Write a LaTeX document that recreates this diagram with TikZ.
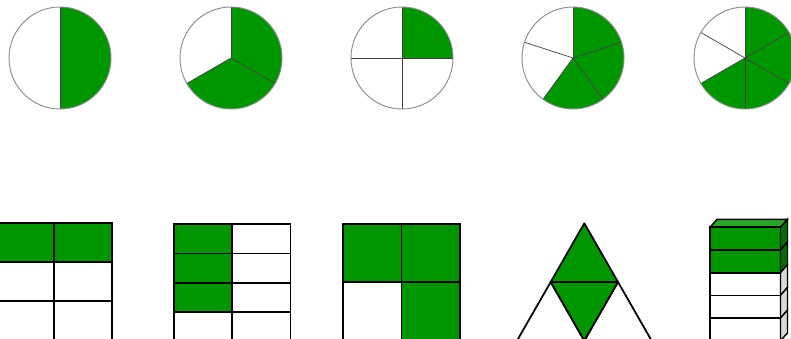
\documentclass[tikz,border=0pt]{standalone}
\usepackage{tikz}

\definecolor{fracgreen}{RGB}{0,150,0}
\tikzset{
  piebound/.style={draw=gray!90, line width=0.8pt},
  pieline/.style={draw=black!75, line width=0.6pt},
  cell/.style={draw=black, line width=1.5pt},
  fullcell/.style={cell, fill=fracgreen},
}

\begin{document}
\begin{tikzpicture}[x=0.03cm, y=0.03cm]
\useasboundingbox (0,0) rectangle (791,339);

% pies: centre x / parts / green parts
\foreach \cx/\n/\g [count=\i] in {60/2/1, 231/3/2, 402/4/1, 573/5/3, 745/6/4} {
  \coordinate (pie\i) at (\cx,281);
  \foreach \k in {1,...,\g} {
    \pgfmathsetmacro{\sa}{90-(\k-1)*360/\n}
    \pgfmathsetmacro{\ea}{90-\k*360/\n}
    \fill[fracgreen] (pie\i) -- ++(\sa:51) arc (\sa:\ea:51) -- cycle;
  }
  \foreach \k in {1,...,\n} {
    \draw[pieline] (pie\i) -- ++({90-(\k-1)*360/\n}:51);
  }
  \draw[piebound] (pie\i) circle (51);
}

% two by three grid
\foreach \x in {-4,54} {
  \draw[fullcell] (\x,77) rectangle ++(58,39);
  \draw[cell] (\x,38) rectangle ++(58,39);
  \draw[cell] (\x,-1) rectangle ++(58,39);
}

% two by four grid
\foreach \y [count=\r] in {85.5,56.3,27.1,-2} {
  \ifnum\r<4
    \draw[fullcell] (174,\y) rectangle ++(58.2,29.2);
  \else
    \draw[cell] (174,\y) rectangle ++(58.2,29.2);
  \fi
  \draw[cell] (232.2,\y) rectangle ++(58.2,29.2);
}

% two by two grid
\draw[fullcell] (343,57) rectangle (401.5,115);
\draw[fullcell] (401.5,57) rectangle (460,115);
\draw[cell] (343,-1) rectangle (401.5,57);
\draw[fullcell] (401.5,-1) rectangle (460,57);

% triangle
\coordinate (apex) at (584.3,115.7);
\coordinate (midl) at (550.7,57);
\coordinate (midr) at (618,57);
\coordinate (basel) at (517,-1.7);
\coordinate (baser) at (651.6,-1.7);
\coordinate (basem) at (584.3,-1.7);
\draw[cell, line join=round] (midl) -- (basel) -- (basem) -- cycle;
\draw[cell, line join=round] (midr) -- (baser) -- (basem) -- cycle;
\draw[fullcell, line join=round] (apex) -- (midl) -- (midr) -- cycle;
\draw[fullcell, line join=round] (midl) -- (midr) -- (basem) -- cycle;

% stacked box
\draw[cell, line width=1.2pt, fill=fracgreen!85!white] (710,111.7) -- (717,119.7) -- (787.5,119.7) -- (780.5,111.7) -- cycle;
\foreach \y [count=\r] in {89,66.3,43.6,20.9,-1.8} {
  \ifnum\r<3
    \draw[fullcell] (710,\y) rectangle ++(70.5,22.7);
    \draw[cell, line width=1.2pt, fill=fracgreen!75!black] (780.5,\y) -- ++(7,8) -- ++(0,22.7) -- ++(-7,-8) -- cycle;
  \else
    \draw[cell] (710,\y) rectangle ++(70.5,22.7);
    \draw[cell, line width=1.2pt, fill=gray!30] (780.5,\y) -- ++(7,8) -- ++(0,22.7) -- ++(-7,-8) -- cycle;
  \fi
}

\end{tikzpicture}
\end{document}
